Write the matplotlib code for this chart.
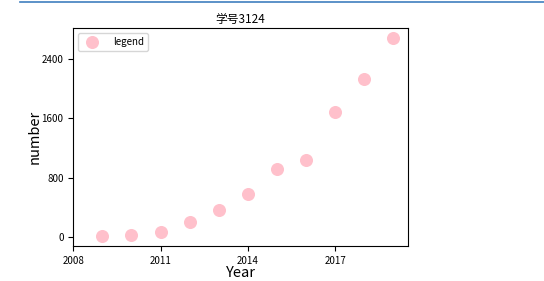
import matplotlib
matplotlib.use("Agg")
import matplotlib.pyplot as plt
from matplotlib.lines import Line2D

plt.rcParams['font.family'] = ['Noto Sans CJK SC', 'DejaVu Sans']

years = [2009, 2010, 2011, 2012, 2013, 2014, 2015, 2016, 2017, 2018, 2019]
values = [5, 20, 60, 195, 357, 574, 912, 1034, 1684, 2131, 2686]
xticks = [2008, 2011, 2014, 2017]
yticks = [0, 800, 1600, 2400]

fig = plt.figure(figsize=(5.44, 2.81), dpi=100)
ax = fig.add_axes([0.1347, 0.1246, 0.6153, 0.7747])
ax.scatter(years, values, s=70, color='pink', label='legend', zorder=3)
ax.set_xlim(2008, 2019.5)
ax.set_ylim(-126, 2821)
ax.set_xticks(xticks)
ax.set_yticks(yticks)
ax.tick_params(labelsize=7)
ax.set_xlabel('Year', fontsize=10.5, labelpad=0)
ax.set_ylabel('number', fontsize=10.5, labelpad=0)
ax.set_title('学号3124', fontsize=8.5, pad=4)
ax.legend(loc='upper left', fontsize=7, handletextpad=1.2, borderpad=0.4)

fig.add_artist(Line2D([20/544, 1.0], [1 - 1.5/281, 1 - 1.5/281], transform=fig.transFigure,
                      color='#3f7fbf', lw=1.2))

fig.savefig('out.png', dpi=100)
